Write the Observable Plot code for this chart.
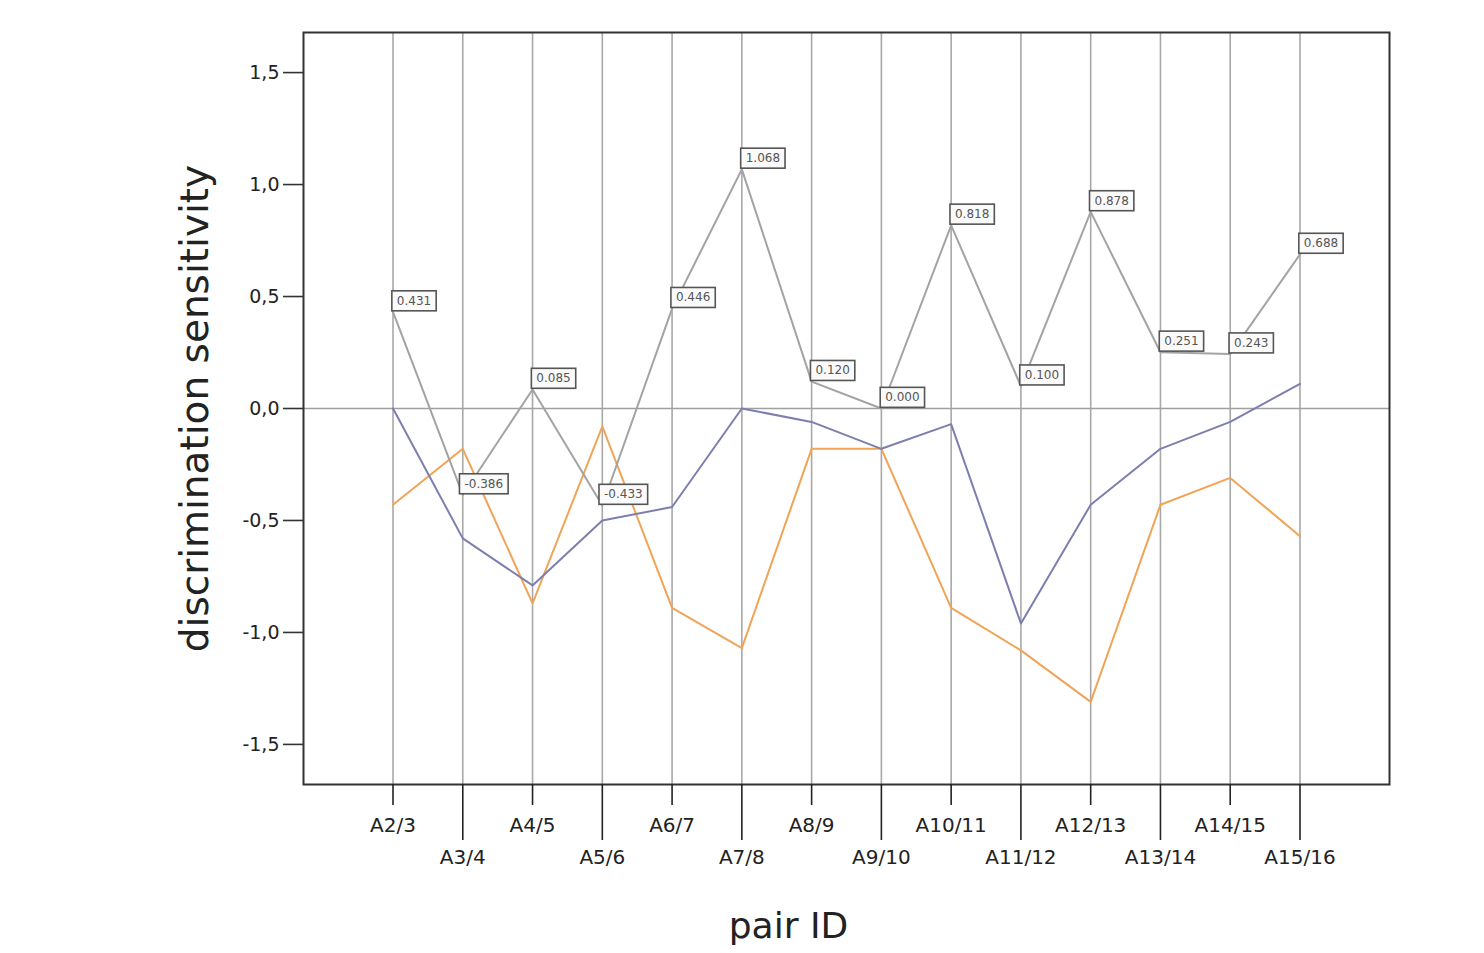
<!DOCTYPE html>
<html><head><meta charset="utf-8">
<script src="https://cdn.jsdelivr.net/npm/d3@7"></script>
<script src="https://cdn.jsdelivr.net/npm/@observablehq/plot@0.6"></script>
<style>body{margin:0;background:#fff;} #chart svg{display:block;}</style>
</head><body><div id="chart"></div>
<script>
const pairs = ["A2/3","A3/4","A4/5","A5/6","A6/7","A7/8","A8/9","A9/10","A10/11","A11/12","A12/13","A13/14","A14/15","A15/16"];
const grayValues = [0.431,-0.386,0.085,-0.433,0.446,1.068,0.120,0.000,0.818,0.100,0.878,0.251,0.243,0.688];
const blueValues = [0.00,-0.58,-0.79,-0.50,-0.44,0.00,-0.06,-0.18,-0.07,-0.96,-0.43,-0.18,-0.06,0.11];
const orangeValues = [-0.43,-0.18,-0.87,-0.08,-0.89,-1.07,-0.18,-0.18,-0.89,-1.08,-1.31,-0.43,-0.31,-0.57];
const yTicks = [-1.5,-1.0,-0.5,0.0,0.5,1.0,1.5];
const yLabel = "discrimination sensitivity";
const xLabel = "pair ID";

const gray = pairs.map((p,i)=>({pair:p, value:grayValues[i]}));
const blue = pairs.map((p,i)=>({pair:p, value:blueValues[i]}));
const orange = pairs.map((p,i)=>({pair:p, value:orangeValues[i]}));
const evenPairs = pairs.filter((d,i)=>i%2===0);
const oddPairs = pairs.filter((d,i)=>i%2===1);
const font = "DejaVu Sans, sans-serif";

const plot = Plot.plot({
  width: 1484, height: 953,
  marginLeft: 303, marginRight: 95, marginTop: 32, marginBottom: 169,
  style: {fontFamily: font, background: "#fff", color: "#222"},
  x: {type: "point", domain: pairs, padding: 1.283, round: false},
  y: {domain: [-1.679, 1.679]},
  marks: [
    Plot.ruleX(pairs, {x: d=>d, stroke: "#a8a8a8", strokeWidth: 1.6}),
    Plot.ruleY([0], {stroke: "#a0a0a0", strokeWidth: 1.3}),
    Plot.line(orange, {x: "pair", y: "value", stroke: "#f0a458", strokeWidth: 2}),
    Plot.line(blue, {x: "pair", y: "value", stroke: "#7c7fae", strokeWidth: 2}),
    Plot.line(gray, {x: "pair", y: "value", stroke: "#a3a3a3", strokeWidth: 2}),
    Plot.text(gray, {x: "pair", y: "value", text: d=>d.value.toFixed(3), dx: 21, dy: -11,
      fontSize: 12, fill: "#555", className: "ptlabel", textAnchor: "middle", lineAnchor: "middle"}),
    Plot.frame({stroke: "#333", strokeWidth: 2}),
    Plot.axisY(yTicks, {tickSize: 20, tickPadding: 4, fontSize: 19, stroke: "#333", strokeWidth: 1.6,
      tickFormat: d=>d.toFixed(1).replace(".", ","), label: null}),
    Plot.axisX(evenPairs, {tickSize: 21, tickPadding: 12, fontSize: 20, stroke: "#222", strokeWidth: 1.6, label: null}),
    Plot.axisX(oddPairs, {tickSize: 56, tickPadding: 9, fontSize: 20, stroke: "#222", strokeWidth: 1.6, label: null}),
    Plot.text([yLabel], {frameAnchor: "left", dx: -108, rotate: -90, fontSize: 39, fill: "#222", textAnchor: "middle", text: d=>d}),
    Plot.text([xLabel], {frameAnchor: "bottom", dx: -58, dy: 153, fontSize: 36, fill: "#222", textAnchor: "middle", text: d=>d})
  ]
});
document.getElementById("chart").append(plot);

d3.select(plot).selectAll("g.ptlabel text").each(function(){
  const b = this.getBBox();
  const w = b.width + 10, h = 20;
  const cx = b.x + b.width/2, cy = b.y + b.height/2;
  const r = document.createElementNS("http://www.w3.org/2000/svg", "rect");
  r.setAttribute("x", cx - w/2); r.setAttribute("y", cy - h/2);
  r.setAttribute("width", w); r.setAttribute("height", h);
  r.setAttribute("fill", "#fafafa"); r.setAttribute("stroke", "#555"); r.setAttribute("stroke-width", 1.6);
  const t = this.getAttribute("transform"); if (t) r.setAttribute("transform", t);
  this.parentNode.insertBefore(r, this);
});
</script>
</body></html>
